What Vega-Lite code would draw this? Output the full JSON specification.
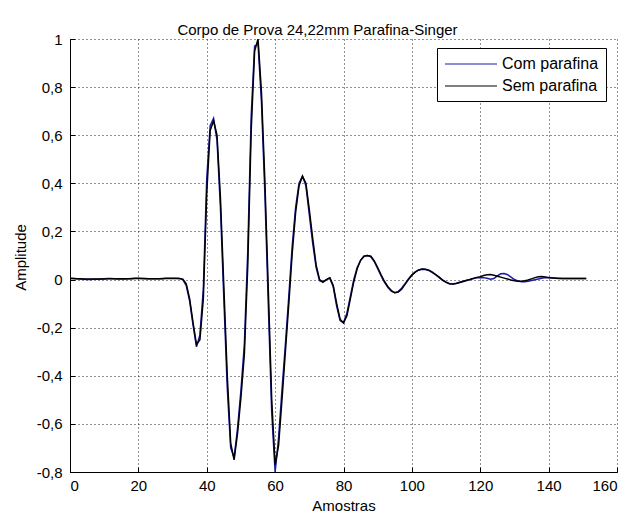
{
  "$schema": "https://vega.github.io/schema/vega-lite/v6.json",
  "width": 547,
  "height": 433,
  "autosize": {"type": "none"},
  "padding": {"left": 70, "top": 39, "right": 16, "bottom": 43},
  "background": "white",
  "title": {"text": "Corpo de Prova 24,22mm Parafina-Singer", "frame": "group", "anchor": "middle", "offset": -4, "dx": -26, "dy": 2, "font": "Liberation Sans", "fontSize": 15, "fontWeight": "normal", "color": "#000"},
  "config": {
    "view": {"stroke": null},
    "font": "Liberation Sans",
    "axis": {"labelFont": "Liberation Sans", "labelFontSize": 15, "labelColor": "#000", "titleFont": "Liberation Sans", "titleFontSize": 15, "titleFontWeight": "normal", "titleColor": "#000", "domainColor": "#000", "domainWidth": 1, "tickColor": "#000", "tickSize": -5, "grid": true, "gridColor": "#222", "gridDash": [1, 3], "gridWidth": 1, "gridOpacity": 1}
  },
  "data": {"values": [
    {"x":0,"Com parafina":0.005,"Sem parafina":0.004},
    {"x":1,"Com parafina":0.004,"Sem parafina":0.004},
    {"x":2,"Com parafina":0.003,"Sem parafina":0.003},
    {"x":3,"Com parafina":0.002,"Sem parafina":0.003},
    {"x":4,"Com parafina":0.001,"Sem parafina":0.002},
    {"x":5,"Com parafina":0.0,"Sem parafina":0.002},
    {"x":6,"Com parafina":0.0,"Sem parafina":0.002},
    {"x":7,"Com parafina":0.001,"Sem parafina":0.002},
    {"x":8,"Com parafina":0.001,"Sem parafina":0.002},
    {"x":9,"Com parafina":0.002,"Sem parafina":0.002},
    {"x":10,"Com parafina":0.003,"Sem parafina":0.002},
    {"x":11,"Com parafina":0.004,"Sem parafina":0.003},
    {"x":12,"Com parafina":0.004,"Sem parafina":0.003},
    {"x":13,"Com parafina":0.003,"Sem parafina":0.003},
    {"x":14,"Com parafina":0.002,"Sem parafina":0.003},
    {"x":15,"Com parafina":0.002,"Sem parafina":0.003},
    {"x":16,"Com parafina":0.002,"Sem parafina":0.003},
    {"x":17,"Com parafina":0.003,"Sem parafina":0.003},
    {"x":18,"Com parafina":0.004,"Sem parafina":0.003},
    {"x":19,"Com parafina":0.005,"Sem parafina":0.004},
    {"x":20,"Com parafina":0.005,"Sem parafina":0.004},
    {"x":21,"Com parafina":0.004,"Sem parafina":0.004},
    {"x":22,"Com parafina":0.003,"Sem parafina":0.004},
    {"x":23,"Com parafina":0.003,"Sem parafina":0.003},
    {"x":24,"Com parafina":0.003,"Sem parafina":0.003},
    {"x":25,"Com parafina":0.003,"Sem parafina":0.003},
    {"x":26,"Com parafina":0.003,"Sem parafina":0.003},
    {"x":27,"Com parafina":0.004,"Sem parafina":0.003},
    {"x":28,"Com parafina":0.005,"Sem parafina":0.004},
    {"x":29,"Com parafina":0.005,"Sem parafina":0.004},
    {"x":30,"Com parafina":0.005,"Sem parafina":0.004},
    {"x":31,"Com parafina":0.005,"Sem parafina":0.004},
    {"x":32,"Com parafina":0.004,"Sem parafina":0.004},
    {"x":33,"Com parafina":0.0,"Sem parafina":0.002},
    {"x":34,"Com parafina":-0.025,"Sem parafina":-0.018},
    {"x":35,"Com parafina":-0.09,"Sem parafina":-0.08},
    {"x":36,"Com parafina":-0.19,"Sem parafina":-0.18},
    {"x":37,"Com parafina":-0.28,"Sem parafina":-0.27},
    {"x":38,"Com parafina":-0.23,"Sem parafina":-0.25},
    {"x":39,"Com parafina":-0.04,"Sem parafina":-0.08},
    {"x":40,"Com parafina":0.42,"Sem parafina":0.36},
    {"x":41,"Com parafina":0.64,"Sem parafina":0.62},
    {"x":42,"Com parafina":0.67,"Sem parafina":0.66},
    {"x":43,"Com parafina":0.58,"Sem parafina":0.6},
    {"x":44,"Com parafina":0.3,"Sem parafina":0.34},
    {"x":45,"Com parafina":-0.08,"Sem parafina":-0.03},
    {"x":46,"Com parafina":-0.45,"Sem parafina":-0.4},
    {"x":47,"Com parafina":-0.7,"Sem parafina":-0.68},
    {"x":48,"Com parafina":-0.74,"Sem parafina":-0.75},
    {"x":49,"Com parafina":-0.62,"Sem parafina":-0.64},
    {"x":50,"Com parafina":-0.46,"Sem parafina":-0.49},
    {"x":51,"Com parafina":-0.27,"Sem parafina":-0.31},
    {"x":52,"Com parafina":0.12,"Sem parafina":0.06},
    {"x":53,"Com parafina":0.68,"Sem parafina":0.62},
    {"x":54,"Com parafina":0.97,"Sem parafina":0.95},
    {"x":55,"Com parafina":0.98,"Sem parafina":1.0},
    {"x":56,"Com parafina":0.74,"Sem parafina":0.78},
    {"x":57,"Com parafina":0.36,"Sem parafina":0.41},
    {"x":58,"Com parafina":-0.1,"Sem parafina":-0.04},
    {"x":59,"Com parafina":-0.55,"Sem parafina":-0.5},
    {"x":60,"Com parafina":-0.8,"Sem parafina":-0.77},
    {"x":61,"Com parafina":-0.66,"Sem parafina":-0.69},
    {"x":62,"Com parafina":-0.46,"Sem parafina":-0.5},
    {"x":63,"Com parafina":-0.27,"Sem parafina":-0.3},
    {"x":64,"Com parafina":-0.07,"Sem parafina":-0.1},
    {"x":65,"Com parafina":0.14,"Sem parafina":0.11},
    {"x":66,"Com parafina":0.3,"Sem parafina":0.28},
    {"x":67,"Com parafina":0.4,"Sem parafina":0.39},
    {"x":68,"Com parafina":0.43,"Sem parafina":0.43},
    {"x":69,"Com parafina":0.39,"Sem parafina":0.4},
    {"x":70,"Com parafina":0.27,"Sem parafina":0.29},
    {"x":71,"Com parafina":0.15,"Sem parafina":0.17},
    {"x":72,"Com parafina":0.05,"Sem parafina":0.06},
    {"x":73,"Com parafina":-0.005,"Sem parafina":0.0},
    {"x":74,"Com parafina":-0.011,"Sem parafina":-0.01},
    {"x":75,"Com parafina":0.0,"Sem parafina":0.0},
    {"x":76,"Com parafina":0.006,"Sem parafina":0.007},
    {"x":77,"Com parafina":-0.03,"Sem parafina":-0.025},
    {"x":78,"Com parafina":-0.11,"Sem parafina":-0.1},
    {"x":79,"Com parafina":-0.17,"Sem parafina":-0.165},
    {"x":80,"Com parafina":-0.18,"Sem parafina":-0.18},
    {"x":81,"Com parafina":-0.14,"Sem parafina":-0.15},
    {"x":82,"Com parafina":-0.07,"Sem parafina":-0.08},
    {"x":83,"Com parafina":0.0,"Sem parafina":-0.01},
    {"x":84,"Com parafina":0.05,"Sem parafina":0.045},
    {"x":85,"Com parafina":0.08,"Sem parafina":0.08},
    {"x":86,"Com parafina":0.097,"Sem parafina":0.097},
    {"x":87,"Com parafina":0.1,"Sem parafina":0.1},
    {"x":88,"Com parafina":0.095,"Sem parafina":0.097},
    {"x":89,"Com parafina":0.075,"Sem parafina":0.078},
    {"x":90,"Com parafina":0.045,"Sem parafina":0.05},
    {"x":91,"Com parafina":0.015,"Sem parafina":0.02},
    {"x":92,"Com parafina":-0.012,"Sem parafina":-0.008},
    {"x":93,"Com parafina":-0.033,"Sem parafina":-0.03},
    {"x":94,"Com parafina":-0.048,"Sem parafina":-0.046},
    {"x":95,"Com parafina":-0.055,"Sem parafina":-0.055},
    {"x":96,"Com parafina":-0.05,"Sem parafina":-0.052},
    {"x":97,"Com parafina":-0.036,"Sem parafina":-0.04},
    {"x":98,"Com parafina":-0.017,"Sem parafina":-0.02},
    {"x":99,"Com parafina":0.003,"Sem parafina":0.0},
    {"x":100,"Com parafina":0.02,"Sem parafina":0.018},
    {"x":101,"Com parafina":0.032,"Sem parafina":0.031},
    {"x":102,"Com parafina":0.04,"Sem parafina":0.04},
    {"x":103,"Com parafina":0.043,"Sem parafina":0.044},
    {"x":104,"Com parafina":0.042,"Sem parafina":0.043},
    {"x":105,"Com parafina":0.037,"Sem parafina":0.039},
    {"x":106,"Com parafina":0.029,"Sem parafina":0.031},
    {"x":107,"Com parafina":0.019,"Sem parafina":0.021},
    {"x":108,"Com parafina":0.008,"Sem parafina":0.01},
    {"x":109,"Com parafina":-0.003,"Sem parafina":-0.002},
    {"x":110,"Com parafina":-0.011,"Sem parafina":-0.011},
    {"x":111,"Com parafina":-0.017,"Sem parafina":-0.017},
    {"x":112,"Com parafina":-0.018,"Sem parafina":-0.018},
    {"x":113,"Com parafina":-0.015,"Sem parafina":-0.016},
    {"x":114,"Com parafina":-0.011,"Sem parafina":-0.012},
    {"x":115,"Com parafina":-0.007,"Sem parafina":-0.008},
    {"x":116,"Com parafina":-0.003,"Sem parafina":-0.004},
    {"x":117,"Com parafina":0.0,"Sem parafina":0.0},
    {"x":118,"Com parafina":0.004,"Sem parafina":0.005},
    {"x":119,"Com parafina":0.007,"Sem parafina":0.009},
    {"x":120,"Com parafina":0.008,"Sem parafina":0.012},
    {"x":121,"Com parafina":0.008,"Sem parafina":0.017},
    {"x":122,"Com parafina":0.005,"Sem parafina":0.02},
    {"x":123,"Com parafina":0.001,"Sem parafina":0.021},
    {"x":124,"Com parafina":0.004,"Sem parafina":0.018},
    {"x":125,"Com parafina":0.015,"Sem parafina":0.014},
    {"x":126,"Com parafina":0.024,"Sem parafina":0.01},
    {"x":127,"Com parafina":0.025,"Sem parafina":0.006},
    {"x":128,"Com parafina":0.02,"Sem parafina":0.002},
    {"x":129,"Com parafina":0.01,"Sem parafina":-0.002},
    {"x":130,"Com parafina":0.0,"Sem parafina":-0.005},
    {"x":131,"Com parafina":-0.006,"Sem parafina":-0.007},
    {"x":132,"Com parafina":-0.009,"Sem parafina":-0.007},
    {"x":133,"Com parafina":-0.009,"Sem parafina":-0.005},
    {"x":134,"Com parafina":-0.007,"Sem parafina":-0.002},
    {"x":135,"Com parafina":-0.004,"Sem parafina":0.003},
    {"x":136,"Com parafina":-0.001,"Sem parafina":0.008},
    {"x":137,"Com parafina":0.002,"Sem parafina":0.012},
    {"x":138,"Com parafina":0.005,"Sem parafina":0.013},
    {"x":139,"Com parafina":0.008,"Sem parafina":0.011},
    {"x":140,"Com parafina":0.009,"Sem parafina":0.008},
    {"x":141,"Com parafina":0.008,"Sem parafina":0.006},
    {"x":142,"Com parafina":0.006,"Sem parafina":0.005},
    {"x":143,"Com parafina":0.005,"Sem parafina":0.004},
    {"x":144,"Com parafina":0.004,"Sem parafina":0.004},
    {"x":145,"Com parafina":0.004,"Sem parafina":0.004},
    {"x":146,"Com parafina":0.004,"Sem parafina":0.004},
    {"x":147,"Com parafina":0.004,"Sem parafina":0.004},
    {"x":148,"Com parafina":0.004,"Sem parafina":0.004},
    {"x":149,"Com parafina":0.004,"Sem parafina":0.004},
    {"x":150,"Com parafina":0.004,"Sem parafina":0.004},
    {"x":151,"Com parafina":0.004,"Sem parafina":0.004}
  ]},
  "transform": [{"fold": ["Com parafina", "Sem parafina"], "as": ["serie", "amp"]}],
  "mark": {"type": "line", "strokeWidth": 1.5, "clip": true},
  "encoding": {
    "x": {"field": "x", "type": "quantitative", "scale": {"domain": [0, 160], "nice": false},
      "axis": {"title": "Amostras", "values": [0, 20, 40, 60, 80, 100, 120, 140, 160], "labelPadding": 11, "titleY": 33, "titleBaseline": "middle"}},
    "y": {"field": "amp", "type": "quantitative", "scale": {"domain": [-0.8, 1], "nice": false, "zero": false},
      "axis": {"title": "Amplitude", "values": [-0.8, -0.6, -0.4, -0.2, 0, 0.2, 0.4, 0.6, 0.8, 1], "labelExpr": "replace(toString(datum.value), '.', ',')", "labelPadding": 13, "titleX": -50, "titleY": 218, "titleBaseline": "middle"}},
    "color": {"field": "serie", "type": "nominal",
      "scale": {"domain": ["Com parafina", "Sem parafina"], "range": ["#1c1ca8", "#000000"]},
      "legend": {"title": null, "orient": "none", "legendX": 367, "legendY": 9, "symbolType": "M-1,0H5.5", "symbolSize": 256, "symbolStrokeWidth": 1.2, "symbolFillColor": "transparent", "labelFontSize": 16, "labelFont": "Liberation Sans", "labelColor": "#000", "labelOffset": 40, "fillColor": "white", "strokeColor": "#000", "padding": 7, "rowPadding": 5}}
  }
}
